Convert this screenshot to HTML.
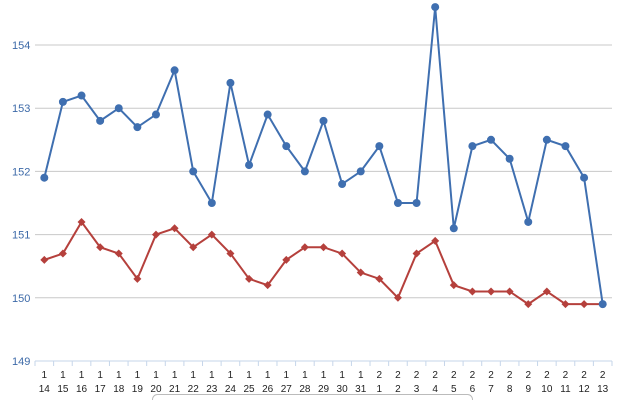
<!DOCTYPE html>
<html><head><meta charset="utf-8"><style>
html,body{margin:0;padding:0;background:#fff;width:640px;height:400px;overflow:hidden;font-family:"Liberation Sans",sans-serif}
</style></head><body>
<svg id="chart" width="640" height="400" xmlns="http://www.w3.org/2000/svg"></svg>
<script>
const xMonths=["1","1","1","1","1","1","1","1","1","1","1","1","1","1","1","1","1","1","2","2","2","2","2","2","2","2","2","2","2","2","2"];
const xDays=["14","15","16","17","18","19","20","21","22","23","24","25","26","27","28","29","30","31","1","2","3","4","5","6","7","8","9","10","11","12","13"];
const seriesA=[151.9,153.1,153.2,152.8,153.0,152.7,152.9,153.6,152.0,151.5,153.4,152.1,152.9,152.4,152.0,152.8,151.8,152.0,152.4,151.5,151.5,154.6,151.1,152.4,152.5,152.2,151.2,152.5,152.4,151.9,149.9];
const seriesB=[150.6,150.7,151.2,150.8,150.7,150.3,151.0,151.1,150.8,151.0,150.7,150.3,150.2,150.6,150.8,150.8,150.7,150.4,150.3,150.0,150.7,150.9,150.2,150.1,150.1,150.1,149.9,150.1,149.9,149.9,149.9];
const yTicks=[149,150,151,152,153,154];
const NS="http://www.w3.org/2000/svg";
const svg=document.getElementById('chart');
const L=35,R=612,Y0=361,YMIN=149,PPU=63.2;
const band=(R-L)/xDays.length;
const x=i=>L+band*(i+0.5);
const y=v=>Y0-(v-YMIN)*PPU;
function mk(t,a){const e=document.createElementNS(NS,t);for(const k in a)e.setAttribute(k,a[k]);svg.appendChild(e);return e;}
yTicks.forEach(t=>{
  const g=mk('line',{x1:L,x2:R,y1:y(t),y2:y(t),stroke:t===YMIN?'#c6d6ea':'#c8c8c8','stroke-width':1});
  
  
  const tx=mk('text',{x:12,y:y(t)+4,fill:'#3d6aa8','font-size':11});
  tx.textContent=t;
  
  
});
for(let i=0;i<=xDays.length;i++){
  const tk=mk('line',{x1:L+band*i,x2:L+band*i,y1:Y0,y2:Y0+5,stroke:'#c6d6ea'});
  
  
}
xDays.forEach((d,i)=>{
  const t1=mk('text',{x:x(i),y:378,'text-anchor':'middle','font-size':10,fill:'#222'});
  t1.textContent=xMonths[i];
  
  
  const t2=mk('text',{x:x(i),y:392,'text-anchor':'middle','font-size':10,fill:'#222'});
  t2.textContent=d;
  
  
});
function series(vals,color,shape,name){
  const p=mk('polyline',{points:vals.map((v,i)=>x(i)+','+y(v)).join(' '),fill:'none',stroke:color,'stroke-width':2});
  
  
  vals.forEach((v,i)=>{
    let m;
    if(shape==='circle')m=mk('circle',{cx:x(i),cy:y(v),r:4,fill:color});
    else{const cx=x(i),cy=y(v);m=mk('polygon',{points:`${cx},${cy-4} ${cx+4},${cy} ${cx},${cy+4} ${cx-4},${cy}`,fill:color});}
    
    
  });
}
series(seriesB,'#b5403c','diamond','series-b');
series(seriesA,'#3f6fb0','circle','series-a');
const lg=mk('rect',{x:152.5,y:394.5,width:320,height:20,rx:5,fill:'#fff',stroke:'#bbb'});


</script>
</body></html>
